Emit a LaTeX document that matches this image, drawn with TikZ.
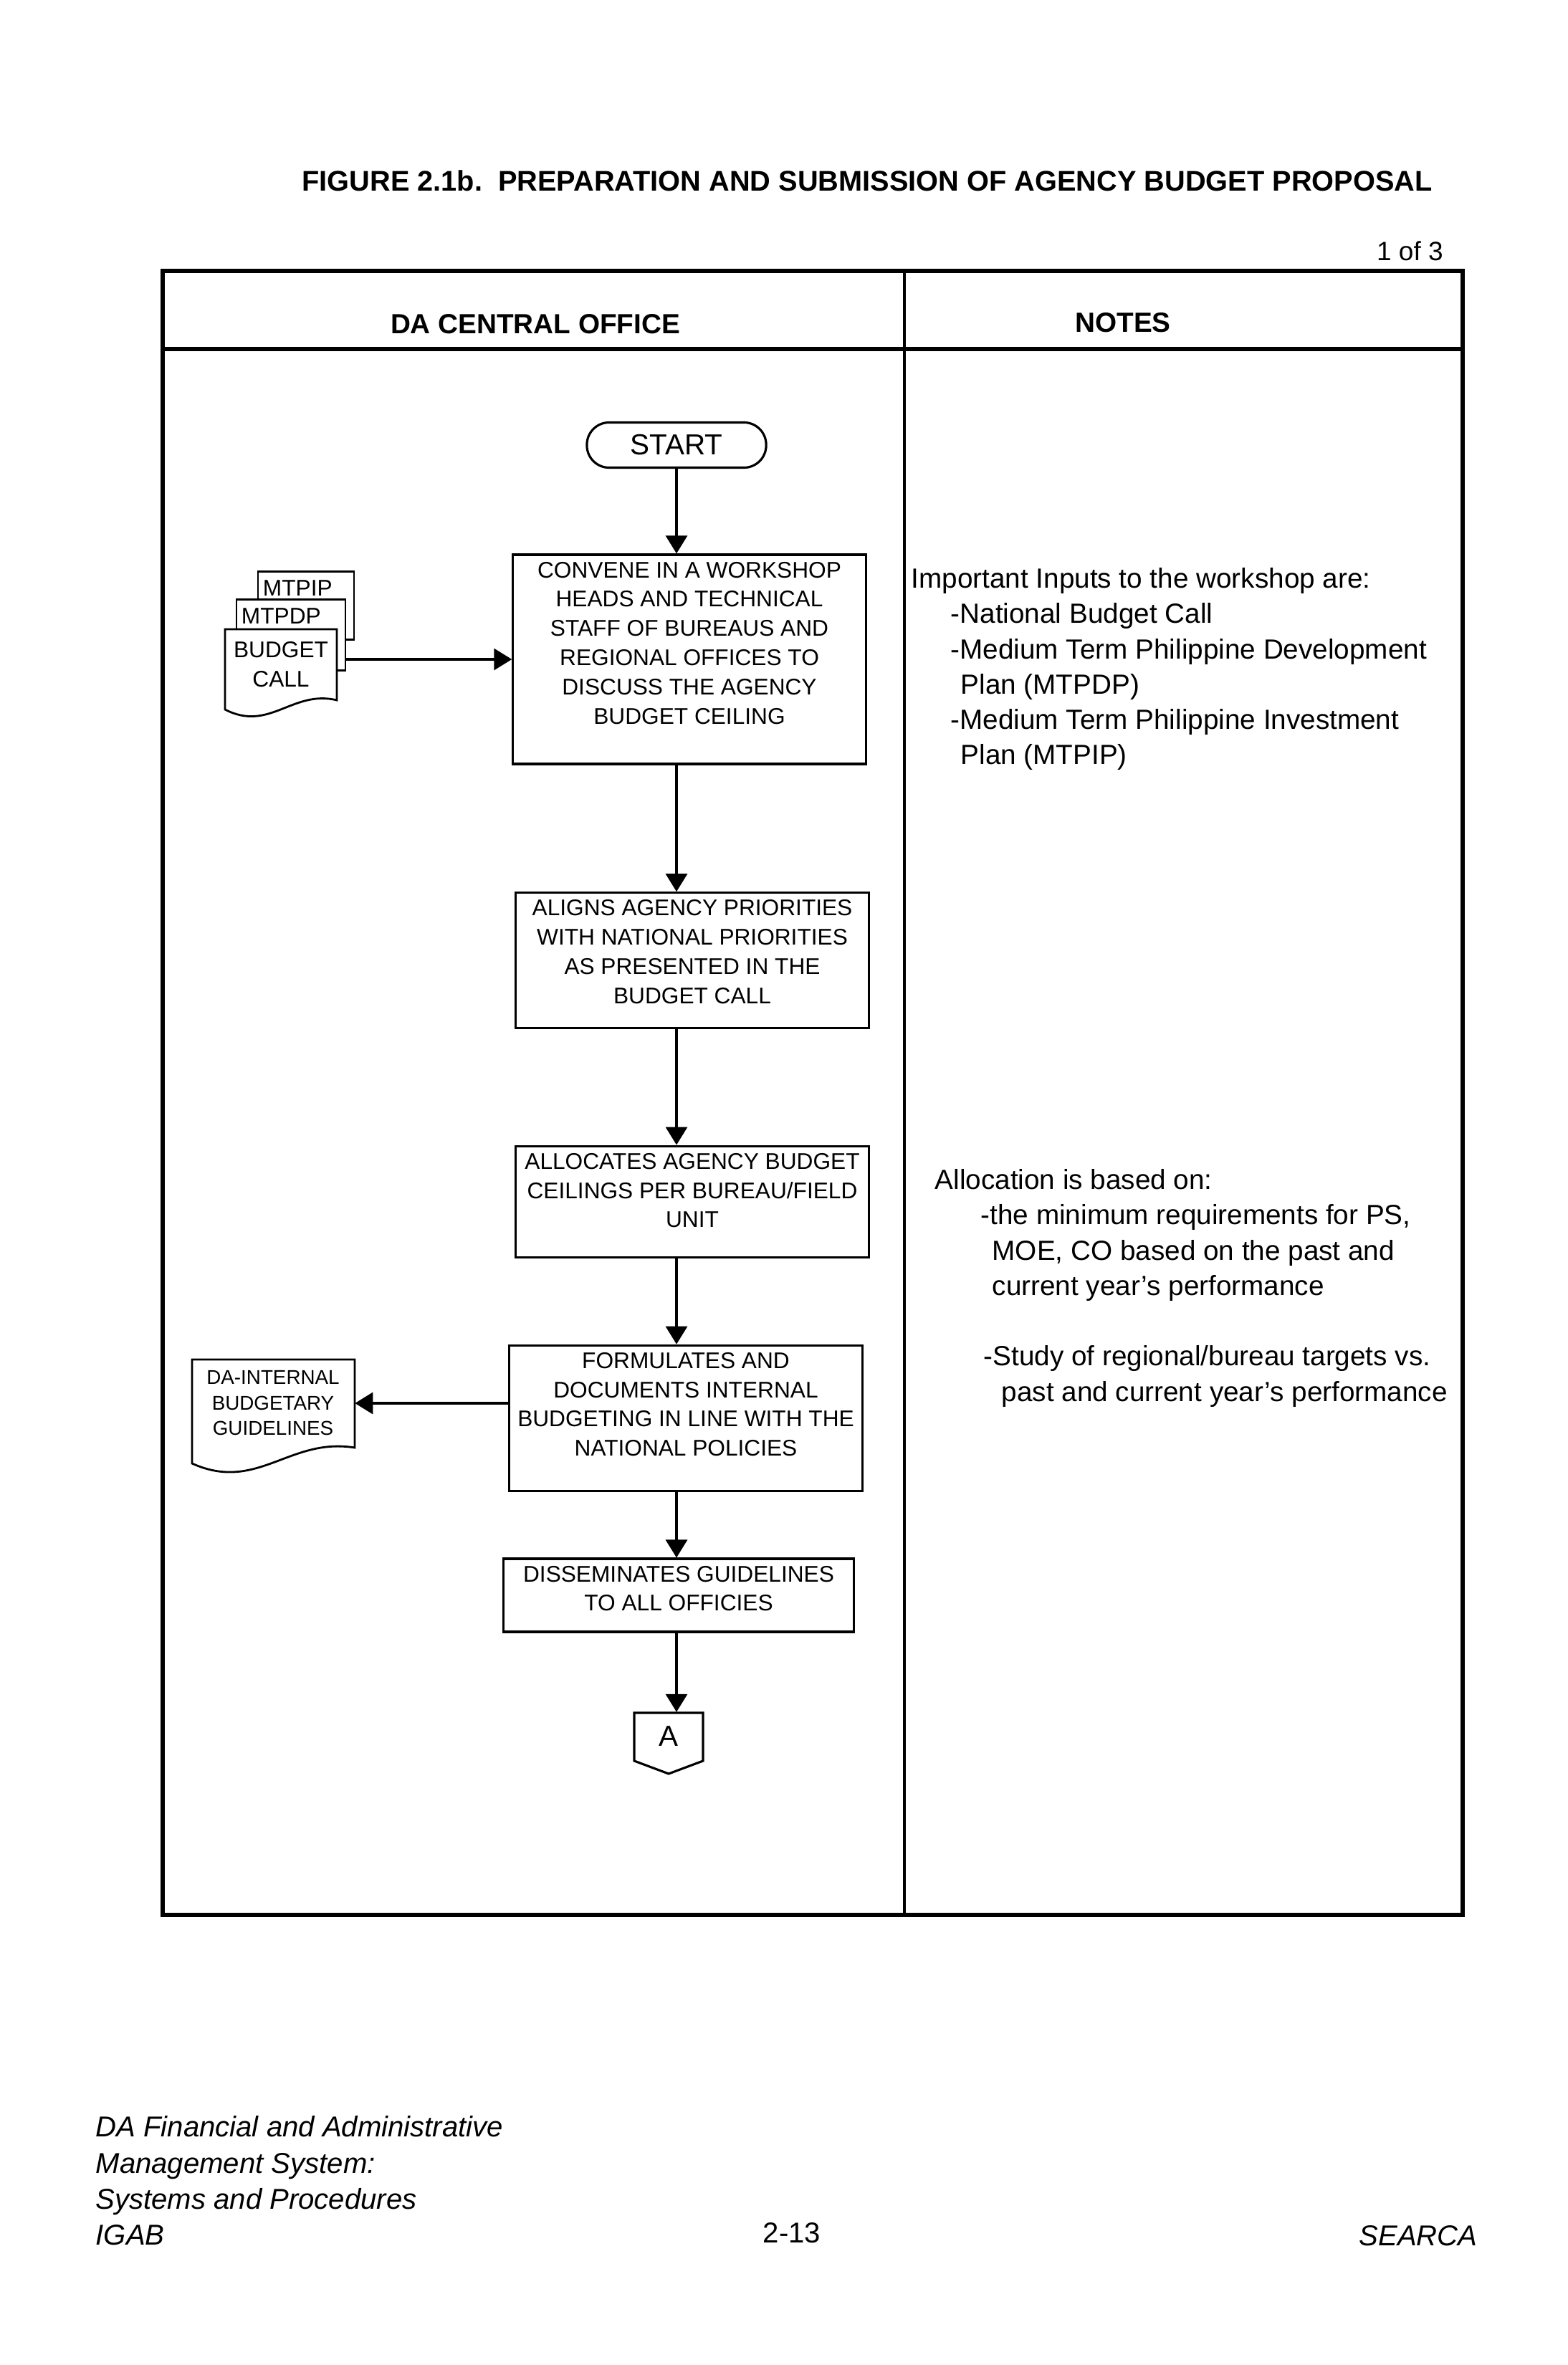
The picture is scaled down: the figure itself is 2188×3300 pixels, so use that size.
\documentclass[tikz,border=0pt]{standalone}
\usepackage{fontspec}
\setmainfont{Liberation Sans}
\usetikzlibrary{calc, arrows.meta}

\begin{document}
\begin{tikzpicture}[
    x = 0.01cm, y = -0.01cm,
    every node/.style = {font=\fontsize{9}{11.6}\selectfont},
    proc/.style = {draw, rectangle, line width=0.9pt, minimum width=4.92cm,
                   align=center, inner xsep=2pt, inner ysep=0.1cm},
    term/.style = {draw, rectangle, rounded corners=0.31cm, line width=0.9pt,
                   minimum width=2.5cm, minimum height=0.63cm,
                   font=\fontsize{11.5}{13}\selectfont},
    paper/.style = {draw, fill=white, rectangle, line width=0.8pt, inner sep=0.07cm,
                    text height=0.27cm, align=left},
    docline/.style = {draw, fill=white, line width=0.8pt},
    note/.style = {anchor=north west, inner sep=0pt, align=left,
                   font=\fontsize{11}{14}\selectfont},
    head/.style = {font=\bfseries\fontsize{11}{13}\selectfont},
    tableline/.style = {line width=1.5pt},
    arr/.style = {-{Triangle[length=0.25cm, width=0.3cm]}, line width=0.9pt},
]
\useasboundingbox (0,0) rectangle (2188,3300);

% title
\node[font=\bfseries\fontsize{11.3}{13}\selectfont] (title) at (1210,252)
    {FIGURE 2.1b.\ \ PREPARATION AND SUBMISSION OF AGENCY BUDGET PROPOSAL};
\node[anchor=east, font=\fontsize{10.5}{12}\selectfont] (sheet) at (2026,350) {1 of 3};

% table frame
\draw[tableline] (227,378) rectangle (2041,2672);
\draw[tableline] (227,487) -- (2041,487);
\draw[line width=1.1pt] (1262,378) -- (1262,2672);
\node[head] (hcentral) at (747,452) {DA CENTRAL OFFICE};
\node[head] (hnotes) at (1567,450) {NOTES};

% input documents
\node[paper, text width=1.2cm, text depth=0.54cm] (mtpip) at (427,845) {MTPIP};
\node[paper, text width=1.38cm, text depth=0.58cm] (mtpdp) at (406,886) {MTPDP};
\draw[docline] (314,878) -- (470,878) -- (470,977)
    .. controls (408,962) and (376,1022) .. (314,990) -- cycle;
\node[minimum width=1.56cm, minimum height=0.99cm, align=center] (bc) at (392,927) {BUDGET\\CALL};

% main flow
\node[term] (start) at (944,621) {START};
\node[proc, text depth=0.46cm] (conv) at (962,920)
    {CONVENE IN A WORKSHOP\\HEADS AND TECHNICAL\\STAFF OF BUREAUS AND\\REGIONAL OFFICES TO\\DISCUSS THE AGENCY\\BUDGET CEILING};
\node[proc, text depth=0.24cm] (aligns) at (966,1340)
    {ALIGNS AGENCY PRIORITIES\\WITH NATIONAL PRIORITIES\\AS PRESENTED IN THE\\BUDGET CALL};
\node[proc, text depth=0.32cm] (allocs) at (966,1677)
    {ALLOCATES AGENCY BUDGET\\CEILINGS PER BUREAU/FIELD\\UNIT};
\node[proc, text depth=0.39cm] (formul) at (957,1979)
    {FORMULATES AND\\DOCUMENTS INTERNAL\\BUDGETING IN LINE WITH THE\\NATIONAL POLICIES};
\node[proc, minimum width=4.88cm, text depth=0.19cm] (dissem) at (947,2226)
    {DISSEMINATES GUIDELINES\\TO ALL OFFICIES};

% output document
\draw[docline] (268,1897) -- (495,1897) -- (495,2020)
    .. controls (404,2005) and (359,2083) .. (268,2042) -- cycle;
\node[minimum width=2.27cm, minimum height=1.23cm, align=center,
      font=\fontsize{7.9}{10.1}\selectfont] (dadoc) at (381,1958)
    {DA-INTERNAL\\BUDGETARY\\GUIDELINES};

% off-page connector
\draw[line width=0.9pt] (885,2390) -- (981,2390) -- (981,2457) -- (933,2475) -- (885,2457) -- cycle;
\node[minimum width=0.96cm, minimum height=0.67cm, font=\fontsize{11.5}{13}\selectfont] (conA) at (933,2423) {A};

% arrows
\draw[arr] (start) -- (start |- conv.north);
\draw[arr] (mtpdp.east |- conv.west) -- (conv.west);
\draw[arr] (conv.south -| start) -- (aligns.north -| start);
\draw[arr] (aligns.south -| start) -- (allocs.north -| start);
\draw[arr] (allocs.south -| start) -- (formul.north -| start);
\draw[arr] (formul.west |- dadoc.east) -- (dadoc.east);
\draw[arr] (formul.south -| start) -- (dissem.north -| start);
\draw[arr] (dissem.south -| start) -- (conA.north -| start);

% notes
\node[note] (inputs) at (1271,792) {Important Inputs to the workshop are:\\
    \hspace*{0.55cm}-National Budget Call\\
    \hspace*{0.55cm}-Medium Term Philippine Development\\
    \hspace*{0.69cm}Plan (MTPDP)\\
    \hspace*{0.55cm}-Medium Term Philippine Investment\\
    \hspace*{0.69cm}Plan (MTPIP)};
\node[note] (basis) at (1304,1631) {Allocation is based on:\\
    \hspace*{0.64cm}-the minimum requirements for PS,\\
    \hspace*{0.80cm}MOE, CO based on the past and\\
    \hspace*{0.80cm}current year's performance\\[14pt]
    \hspace*{0.68cm}-Study of regional/bureau targets vs.\\
    \hspace*{0.93cm}past and current year's performance};

% footer
\node[anchor=north west, inner sep=0pt, align=left,
      font=\itshape\fontsize{11.4}{14.3}\selectfont] (manual) at (133,2952)
    {DA Financial and Administrative\\Management System:\\Systems and Procedures\\IGAB};
\node[anchor=base, font=\fontsize{11.4}{14}\selectfont] (pageno) at (1105,3129) {2-13};
\node[anchor=base east, font=\itshape\fontsize{11.4}{14}\selectfont] (org) at (2074,3133) {SEARCA};
\end{tikzpicture}
\end{document}
